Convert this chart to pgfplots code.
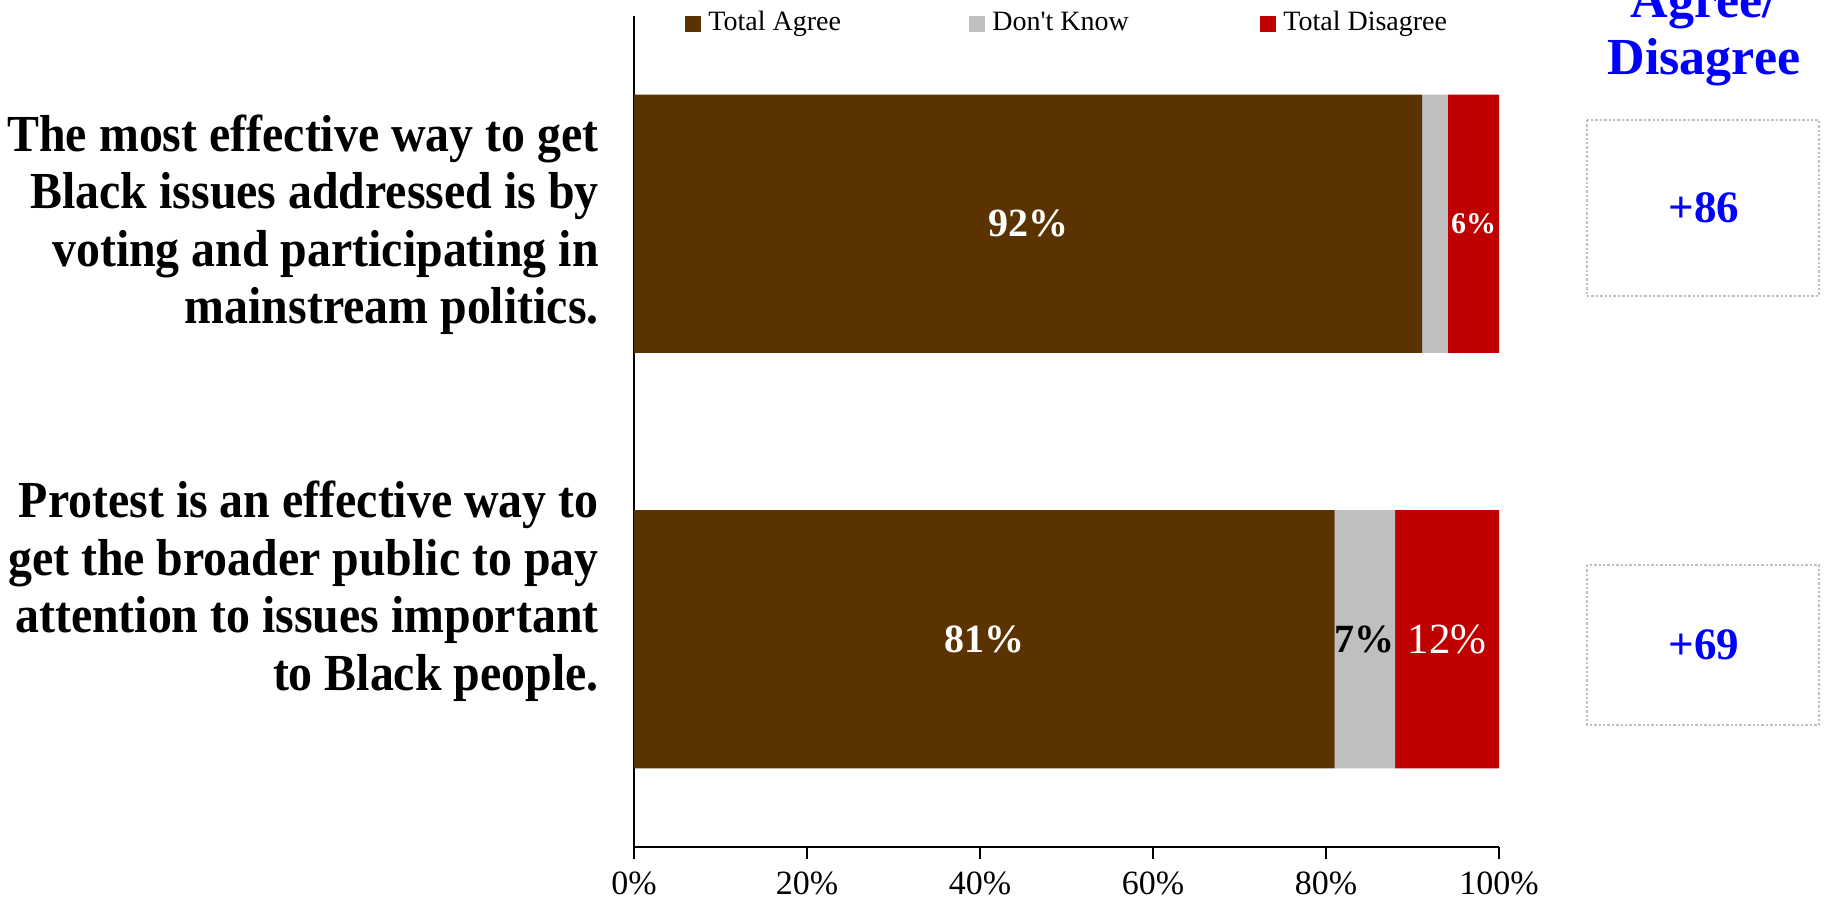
\documentclass[border=0pt]{standalone}
\usepackage{pgfplots}
\pgfplotsset{compat=1.18}
\usepackage{fontspec}
\setmainfont{Liberation Serif}
\newfontfamily\labelfont{Liberation Serif}[FakeStretch=0.92]
\newfontfamily\legendfont{Liberation Serif}[Ligatures=TeXOff]
\definecolor{agree}{RGB}{90,51,0}
\definecolor{dk}{RGB}{191,191,191}
\definecolor{dis}{RGB}{192,0,0}
\definecolor{netblue}{RGB}{0,0,255}
\definecolor{boxgray}{RGB}{191,191,191}
\pgfplotsset{
  frame/.style={
    at={(317pt,-423.5pt)}, anchor=south west,
    scale only axis, width=432.5pt, height=415.5pt,
    xmin=0, xmax=100, ymin=0, ymax=2, clip=false,
  }
}
\begin{document}
\begin{tikzpicture}[x=0.5pt,y=-0.5pt]
% bars
\begin{axis}[
  frame,
  xbar stacked, bar width=0.622,
  axis lines*=left,
  ytick=\empty,
  xtick={0,20,...,100},
  xticklabel={\pgfmathprintnumber{\tick}\%},
  tick align=outside, major tick length=6pt,
  tick style={black, line width=0.6pt},
  axis line style={black, line width=0.8pt},
  xticklabel style={font=\fontsize{17}{17}\selectfont, yshift=-3pt},
  /pgf/number format/assume math mode=true,
]
\addplot[fill=agree, draw=none] coordinates {(91.1,1.5) (81.0,0.5)};
\addplot[fill=dk, draw=none] coordinates {(3.0,1.5) (7.0,0.5)};
\addplot[fill=dis, draw=none] coordinates {(5.9,1.5) (12.0,0.5)};
\end{axis}
% segment labels, centred in each segment
\begin{axis}[
  frame, hide axis,
  nodes near coords, point meta=explicit symbolic,
  every node near coord/.append style={anchor=center, inner sep=0pt},
]
\addplot[draw=none, mark=none, nodes near coords style={text=white, font=\fontsize{20}{20}\selectfont\bfseries}]
  coordinates {(45.55,1.5) [92\%] (40.5,0.5) [81\%]};
\addplot[draw=none, mark=none, nodes near coords style={text=black, font=\fontsize{20}{20}\selectfont\bfseries}]
  coordinates {(84.5,0.5) [7\%]};
\addplot[draw=none, mark=none, nodes near coords style={text=white, font=\fontsize{15}{15}\selectfont\bfseries}]
  coordinates {(97.05,1.5) [6\%]};
\addplot[draw=none, mark=none, nodes near coords style={text=white, font=\fontsize{21.5}{21.5}\selectfont}]
  coordinates {(94.0,0.5) [12\%]};
\end{axis}

% legend
\fill[agree] (685,16) rectangle (701,32);
\node[anchor=base west, inner sep=0, font=\legendfont\fontsize{14}{14}\selectfont] at (708,31) {Total Agree};
\fill[dk] (969,16) rectangle (985,32);
\node[anchor=base west, inner sep=0, font=\legendfont\fontsize{14}{14}\selectfont] at (992,31) {Don't Know};
\fill[dis] (1260,16) rectangle (1276,32);
\node[anchor=base west, inner sep=0, font=\legendfont\fontsize{14}{14}\selectfont] at (1283,31) {Total Disagree};

% left labels
\begin{scope}[every node/.style={anchor=base east, inner sep=0, font=\labelfont\fontsize{26}{26}\selectfont\bfseries}]
\node at (599,152) {The most effective way to get};
\node at (599,209) {Black issues addressed is by};
\node at (599,267) {voting and participating in};
\node at (599,324) {mainstream politics.};
\node at (599,517) {Protest is an effective way to};
\node at (599,575) {get the broader public to pay};
\node at (599,632) {attention to issues important};
\node at (599,690) {to Black people.};
\end{scope}

% right column
\begin{scope}[every node/.style={anchor=base, inner sep=0, text=netblue, font=\fontsize{26}{26}\selectfont\bfseries}]
\node at (1704,17.5) {Agree/};
\node at (1704,75) {Disagree};
\end{scope}
\draw[boxgray, line width=0.8pt, dash pattern=on 1.2pt off 1pt] (1587,120) rectangle (1819,296);
\draw[boxgray, line width=0.8pt, dash pattern=on 1.2pt off 1pt] (1587,565) rectangle (1819,725);
\node[text=netblue, font=\fontsize{22.5}{22.5}\selectfont\bfseries, inner sep=0] at (1704,208) {+86};
\node[text=netblue, font=\fontsize{22.5}{22.5}\selectfont\bfseries, inner sep=0] at (1704,645) {+69};

\pgfresetboundingbox
\path[use as bounding box] (0,0) rectangle (1830,903);
\end{tikzpicture}
\end{document}
